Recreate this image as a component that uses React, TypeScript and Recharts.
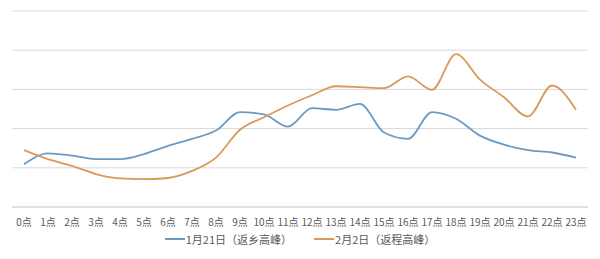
import { LineChart, Line, XAxis, YAxis, CartesianGrid, Legend } from 'recharts'

const hours = ['0点', '1点', '2点', '3点', '4点', '5点', '6点', '7点', '8点', '9点', '10点', '11点',
  '12点', '13点', '14点', '15点', '16点', '17点', '18点', '19点', '20点', '21点', '22点', '23点']

const jan21 = [1.09, 1.37, 1.31, 1.22, 1.22, 1.35, 1.56, 1.74, 1.95, 2.42, 2.36, 2.05,
  2.52, 2.48, 2.63, 1.9, 1.74, 2.42, 2.25, 1.82, 1.59, 1.45, 1.39, 1.26]

const feb2 = [1.45, 1.22, 1.05, 0.84, 0.73, 0.71, 0.74, 0.92, 1.26, 1.97, 2.29, 2.59,
  2.85, 3.08, 3.06, 3.03, 3.33, 2.99, 3.9, 3.25, 2.8, 2.31, 3.1, 2.48]

const yTicks = [0, 1, 2, 3, 4, 5]

const data = hours.map((h, i) => ({ hour: h, jan21: jan21[i], feb2: feb2[i] }))

const FONT = '"Noto Sans CJK SC", "Noto Sans", sans-serif'

function LegendContent({ payload }: any) {
  return (
    <div style={{ display: 'flex', justifyContent: 'center', gap: 22, fontFamily: FONT, fontSize: 11, color: '#595959' }}>
      {(payload || []).map((p: any) => (
        <div key={p.value} style={{ display: 'flex', alignItems: 'center' }}>
          <span style={{ display: 'inline-block', width: 20, height: 2, background: p.color, marginRight: 1 }} />
          <span>{p.value}</span>
        </div>
      ))}
    </div>
  )
}

export default function App() {
  return (
    <div style={{ position: 'absolute', left: 0, top: 0, width: 600, height: 259, background: '#fff' }}>
      <LineChart width={600} height={259} data={data} margin={{ top: 11, right: 12, left: 12, bottom: 4 }}>
        <CartesianGrid vertical={false} stroke="#d9d9d9" />
        <XAxis
          dataKey="hour"
          interval={0}
          padding={{ left: 12, right: 12 }}
          tickLine={false}
          axisLine={{ stroke: '#d9d9d9' }}
          tick={{ fontSize: 10, fill: '#595959', fontFamily: FONT }}
          tickMargin={6}
          height={24}
        />
        <YAxis hide domain={[0, 5]} ticks={yTicks} />
        <Legend content={<LegendContent />} verticalAlign="bottom" height={24} />
        <Line type="monotone" dataKey="jan21" name="1月21日（返乡高峰）" stroke="#6b9bc3" strokeWidth={1.8} dot={false} isAnimationActive={false} />
        <Line type="monotone" dataKey="feb2" name="2月2日（返程高峰）" stroke="#d99a58" strokeWidth={1.8} dot={false} isAnimationActive={false} />
      </LineChart>
    </div>
  )
}
